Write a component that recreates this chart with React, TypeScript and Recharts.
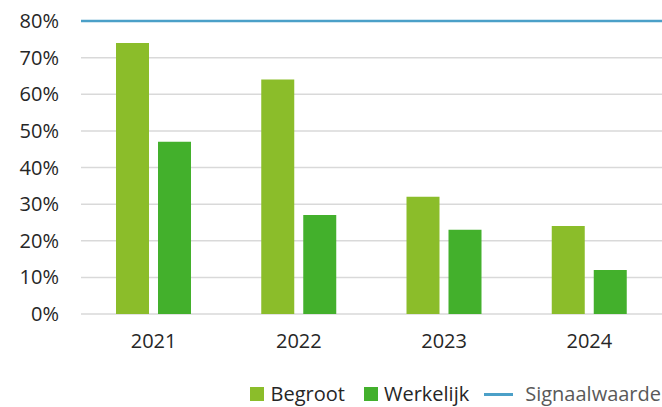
import React from "react";
import {
  BarChart,
  Bar,
  XAxis,
  YAxis,
  CartesianGrid,
  Legend,
  ReferenceLine,
} from "recharts";

const years = ["2021", "2022", "2023", "2024"];
const begroot = [74, 64, 32, 24];
const werkelijk = [47, 27, 23, 12];
const signaalwaarde = 80;
const yTicks = [0, 10, 20, 30, 40, 50, 60, 70, 80];

const BEGROOT_COLOR = "#8BBD2A";
const WERKELIJK_COLOR = "#43B02C";
const LINE_COLOR = "#4BA0C8";
const FONT = "'Open Sans', sans-serif";

const data = years.map((year, i) => ({
  year,
  begroot: begroot[i],
  werkelijk: werkelijk[i],
}));

const LegendContent = () => (
  <div
    style={{
      height: 41,
      boxSizing: "border-box",
      display: "flex",
      justifyContent: "flex-end",
      alignItems: "flex-end",
      fontFamily: FONT,
      fontSize: 20,
      lineHeight: "24px",
      paddingBottom: 1,
    }}
  >
    <div style={{ display: "flex", alignItems: "center", marginRight: 19 }}>
      <span
        style={{
          width: 14,
          height: 14,
          background: BEGROOT_COLOR,
          display: "inline-block",
          marginRight: 7,
        }}
      />
      <span style={{ color: "#262626" }}>Begroot</span>
    </div>
    <div style={{ display: "flex", alignItems: "center", marginRight: 15 }}>
      <span
        style={{
          width: 14,
          height: 14,
          background: WERKELIJK_COLOR,
          display: "inline-block",
          marginRight: 6,
        }}
      />
      <span style={{ color: "#262626" }}>Werkelijk</span>
    </div>
    <div style={{ display: "flex", alignItems: "center", marginRight: 1 }}>
      <span
        style={{
          width: 29,
          height: 3,
          background: LINE_COLOR,
          display: "inline-block",
          marginRight: 12,
        }}
      />
      <span style={{ color: "#595959" }}>Signaalwaarde</span>
    </div>
  </div>
);

export default function App() {
  return (
    <div style={{ position: "absolute", left: 0, top: 0, width: 662, height: 407 }}>
      <BarChart
        width={662}
        height={407}
        data={data}
        margin={{ top: 21, right: 0, left: 0, bottom: 0 }}
        barSize={33}
        barGap={9}
      >
        <CartesianGrid vertical={false} stroke="#D9D9D9" strokeWidth={1.5} />
        <XAxis
          dataKey="year"
          axisLine={false}
          tickLine={false}
          height={52}
          tickMargin={14}
          tick={{ fontSize: 20, fill: "#262626", fontFamily: FONT }}
        />
        <YAxis
          domain={[0, 80]}
          ticks={yTicks}
          width={81}
          axisLine={false}
          tickLine={false}
          tickMargin={16}
          tickFormatter={(v) => `${v}%`}
          tick={{ fontSize: 20, fill: "#262626", fontFamily: FONT }}
        />
        <Legend verticalAlign="bottom" height={41} content={<LegendContent />} />
        <Bar dataKey="begroot" name="Begroot" fill={BEGROOT_COLOR} isAnimationActive={false} />
        <Bar dataKey="werkelijk" name="Werkelijk" fill={WERKELIJK_COLOR} isAnimationActive={false} />
        <ReferenceLine y={signaalwaarde} stroke={LINE_COLOR} strokeWidth={2.5} />
      </BarChart>
    </div>
  );
}
